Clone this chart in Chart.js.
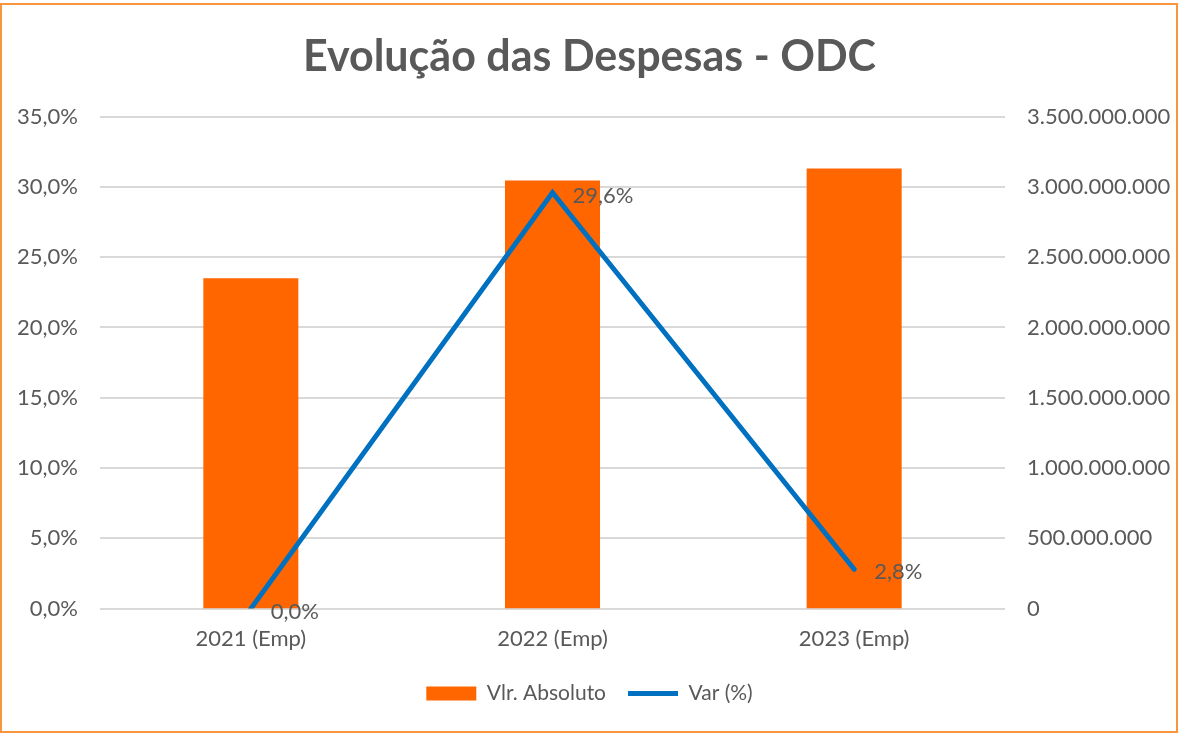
<!DOCTYPE html>
<html>
<head>
<meta charset="utf-8">
<script src="https://cdn.jsdelivr.net/npm/chart.js@4"></script>
<style>
  body { margin: 0; background: #fff; }
  #wrap { position: relative; width: 1179px; height: 735px; }
  #frame { position: absolute; left: 0; top: 3px; width: 1178px; height: 730px;
           border: 2px solid #F7963E; box-sizing: border-box; pointer-events: none; }
</style>
</head>
<body>
<div id="wrap">
  <canvas id="chart" width="1179" height="735"></canvas>
  <div id="frame"></div>
</div>
<script>
// ===== Data =====
const categories = ['2021 (Emp)', '2022 (Emp)', '2023 (Emp)'];
const absValues = [2350000000, 3046000000, 3131000000];
const varValues = [0.0, 29.6, 2.8];

const TEXT = '#595959';
const FONT = 'Lato, "Open Sans", sans-serif';

function ptBR(n, dec) {
  return n.toLocaleString('pt-BR', { minimumFractionDigits: dec, maximumFractionDigits: dec });
}

// data labels for the line series
const lineLabels = {
  id: 'lineLabels',
  afterDatasetsDraw(chart) {
    const meta = chart.getDatasetMeta(1);
    const ctx = chart.ctx;
    ctx.save();
    ctx.font = '22px ' + FONT;
    ctx.fillStyle = TEXT;
    ctx.textAlign = 'left';
    ctx.textBaseline = 'middle';
    meta.data.forEach((pt, i) => {
      ctx.fillText(ptBR(varValues[i], 1) + '%', pt.x + 20, pt.y + 3);
    });
    ctx.restore();
  }
};

new Chart(document.getElementById('chart'), {
  data: {
    labels: categories,
    datasets: [
      {
        type: 'bar',
        label: 'Vlr. Absoluto',
        data: absValues,
        yAxisID: 'y1',
        backgroundColor: '#FF6600',
        barPercentage: 0.315,
        categoryPercentage: 1,
        pointStyle: 'rect',
        order: 2
      },
      {
        type: 'line',
        label: 'Var (%)',
        data: varValues,
        yAxisID: 'y',
        borderColor: '#0070C0',
        backgroundColor: '#0070C0',
        borderWidth: 5,
        pointRadius: 0,
        pointStyle: 'line',
        borderCapStyle: 'round',
        tension: 0,
        order: 1
      }
    ]
  },
  options: {
    responsive: false,
    animation: false,
    layout: { padding: { left: 0, right: 0, top: 0, bottom: 21 } },
    scales: {
      x: {
        grid: { display: false },
        border: { display: false },
        ticks: { color: TEXT, font: { family: FONT, size: 22 }, padding: 9 }
      },
      y: {
        position: 'left',
        min: 0, max: 35,
        ticks: { stepSize: 5, color: TEXT, font: { family: FONT, size: 22 }, padding: 22,
                 callback: v => ptBR(v, 1) + '%' },
        grid: { color: '#D9D9D9', lineWidth: 2, drawTicks: false },
        border: { display: false },
        afterFit: s => { s.width = 100; }
      },
      y1: {
        position: 'right',
        min: 0, max: 3500000000,
        ticks: { stepSize: 500000000, color: TEXT, font: { family: FONT, size: 22 }, padding: 22,
                 callback: v => ptBR(v, 0) },
        grid: { display: false, drawTicks: false },
        border: { display: false },
        afterFit: s => { s.width = 174; }
      }
    },
    plugins: {
      title: {
        display: true,
        text: 'Evolução das Despesas - ODC',
        color: TEXT,
        font: { family: FONT, size: 43, weight: 'bold' },
        padding: { top: 31, bottom: 34 }
      },
      legend: {
        position: 'bottom',
        labels: {
          color: TEXT,
          font: { family: FONT, size: 21 },
          usePointStyle: true,
          pointStyleWidth: 50,
          boxWidth: 50,
          boxHeight: 14,
          padding: 22,
          sort: (a, b) => a.datasetIndex - b.datasetIndex
        }
      },
      tooltip: { enabled: false }
    }
  },
  plugins: [lineLabels]
});
</script>
</body>
</html>
